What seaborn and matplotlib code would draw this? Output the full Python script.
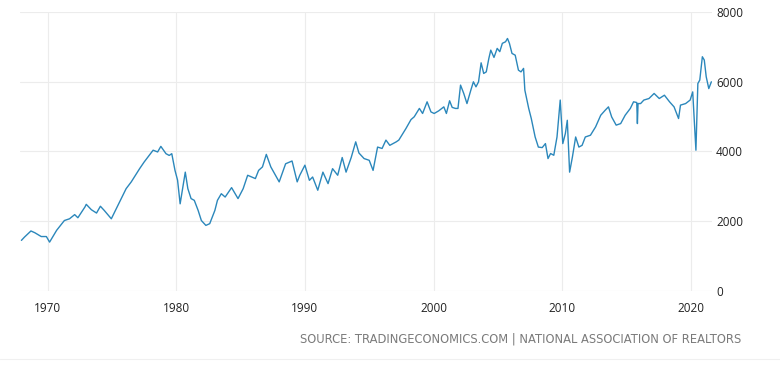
import numpy as np
import pandas as pd
import matplotlib
matplotlib.use("Agg")
import matplotlib.pyplot as plt
import seaborn as sns

# Existing home sales (thousands, SAAR), by decade
years_60s = [1967.96, 1968.2, 1968.7, 1969.0, 1969.5, 1969.9]
sales_60s = [1440, 1535, 1710, 1660, 1550, 1550]

years_70s = [1970.15, 1970.7, 1971.3, 1971.7, 1972.1, 1972.35, 1972.9, 1973.0,
             1973.4, 1973.8, 1974.1, 1974.4, 1974.95, 1975.5, 1976.1, 1976.5,
             1977.15, 1977.5, 1978.2, 1978.55, 1978.8, 1979.2, 1979.45, 1979.65,
             1979.9]
sales_70s = [1390, 1730, 2010, 2060, 2180, 2090, 2400, 2475,
             2320, 2225, 2420, 2300, 2060, 2475, 2925, 3120,
             3500, 3690, 4030, 3980, 4140, 3930, 3880, 3930,
             3450]

years_80s = [1980.1, 1980.3, 1980.7, 1980.9, 1981.15, 1981.4, 1981.7, 1981.95,
             1982.3, 1982.6, 1983.0, 1983.2, 1983.5, 1983.8, 1984.3, 1984.8,
             1985.2, 1985.55, 1986.15, 1986.4, 1986.7, 1987.0, 1987.35, 1988.0,
             1988.5, 1989.0, 1989.4, 1989.6]
sales_80s = [3170, 2490, 3400, 2925, 2640, 2590, 2300, 2010,
             1870, 1920, 2300, 2590, 2780, 2685, 2955, 2640,
             2925, 3310, 3215, 3450, 3550, 3910, 3550, 3120,
             3640, 3720, 3120, 3310]

years_90s = [1990.0, 1990.35, 1990.6, 1991.0, 1991.4, 1991.8, 1992.15, 1992.55,
             1992.9, 1993.2, 1993.6, 1993.95, 1994.2, 1994.6, 1995.0, 1995.3,
             1995.65, 1996.0, 1996.3, 1996.6, 1997.1, 1997.3, 1997.85, 1998.25,
             1998.5, 1998.9, 1999.15, 1999.5, 1999.8]
sales_90s = [3600, 3165, 3260, 2880, 3400, 3070, 3500, 3310,
             3820, 3400, 3820, 4270, 3950, 3790, 3740, 3450,
             4120, 4080, 4320, 4170, 4270, 4320, 4650, 4910,
             4990, 5230, 5085, 5420, 5130]

years_00s = [2000.05, 2000.4, 2000.8, 2001.0, 2001.25, 2001.45, 2001.7, 2001.9,
             2002.1, 2002.35, 2002.6, 2002.9, 2003.1, 2003.3, 2003.5, 2003.7,
             2003.9, 2004.1, 2004.3, 2004.45, 2004.7, 2004.95, 2005.15, 2005.35,
             2005.6, 2005.75, 2005.9, 2006.1, 2006.35, 2006.6, 2006.8, 2007.0,
             2007.1, 2007.4, 2007.6, 2007.9, 2008.15, 2008.45, 2008.7, 2008.9,
             2009.1, 2009.35, 2009.6, 2009.85]
sales_00s = [5085, 5160, 5275, 5085, 5450, 5260, 5230, 5230,
             5900, 5660, 5370, 5755, 5995, 5850, 5995, 6540,
             6235, 6280, 6665, 6905, 6695, 6955, 6860, 7100,
             7145, 7240, 7100, 6810, 6760, 6330, 6280, 6380,
             5755, 5230, 4940, 4410, 4120, 4105, 4220, 3790,
             3935, 3885, 4410, 5470]

years_10s = [2010.05, 2010.25, 2010.4, 2010.58, 2010.8, 2011.05, 2011.3, 2011.55,
             2011.8, 2012.2, 2012.6, 2013.0, 2013.35, 2013.6, 2013.85, 2014.2,
             2014.55, 2014.9, 2015.3, 2015.55, 2015.8, 2015.85, 2015.9, 2016.1,
             2016.35, 2016.75, 2017.15, 2017.55, 2017.95, 2018.35, 2018.7, 2019.05,
             2019.2, 2019.6, 2019.95]
sales_10s = [4220, 4510, 4890, 3400, 3840, 4410, 4120, 4170,
             4410, 4460, 4700, 5035, 5180, 5275, 4985, 4750,
             4795, 5035, 5230, 5420, 5400, 4795, 5370, 5370,
             5470, 5515, 5660, 5515, 5610, 5420, 5275, 4940,
             5325, 5370, 5470]

years_20s = [2020.15, 2020.4, 2020.55, 2020.7, 2020.9, 2021.05, 2021.2, 2021.4, 2021.6]
sales_20s = [5705, 4030, 5945, 6045, 6715, 6620, 6140, 5800, 5995]

x_ticks = [1970, 1980, 1990, 2000, 2010, 2020]
y_ticks = [0, 2000, 4000, 6000, 8000]
source_text = "SOURCE: TRADINGECONOMICS.COM | NATIONAL ASSOCIATION OF REALTORS"

df = pd.DataFrame({
    "year": years_60s + years_70s + years_80s + years_90s + years_00s + years_10s + years_20s,
    "sales": sales_60s + sales_70s + sales_80s + sales_90s + sales_00s + sales_10s + sales_20s,
})

sns.set_theme(style="white")
plt.rcParams["font.family"] = ["Open Sans", "DejaVu Sans"]

W, H = 780, 365
fig = plt.figure(figsize=(W / 100, H / 100), dpi=100)
ax = fig.add_axes([20 / W, 1 - 290.5 / H, (712 - 20) / W, (290.5 - 12) / H])

sns.lineplot(data=df, x="year", y="sales", ax=ax, color="#2b87bb",
             linewidth=1.0, estimator=None, sort=False)

ax.set_xlim(1967.85, 2021.65)
ax.set_ylim(0, 8000)
ax.set_xticks(x_ticks)
ax.set_yticks(y_ticks)
ax.set_xticklabels([str(t) for t in x_ticks])
ax.set_yticklabels([str(t) for t in y_ticks])
ax.set_xlabel("")
ax.set_ylabel("")
ax.grid(True, color="#ececec", linewidth=0.8)
ax.set_axisbelow(True)
for s in ax.spines.values():
    s.set_visible(False)

ax.yaxis.tick_right()
ax.tick_params(axis="y", length=0, pad=3, labelsize=8.5, labelcolor="#222222")
ax.tick_params(axis="x", length=2, width=0.8, color="#ececec", pad=6,
               labelsize=8.5, labelcolor="#222222")

fig.text(741 / W, 1 - 339 / H, source_text, ha="right", va="center",
         fontsize=8.3, color="#7a7a7a", family=["DejaVu Sans"])
fig.add_artist(plt.Line2D([0, 1], [1 - 358.5 / H] * 2, color="#f0f0f0", linewidth=0.8))

fig.savefig("out.png", dpi=100)
